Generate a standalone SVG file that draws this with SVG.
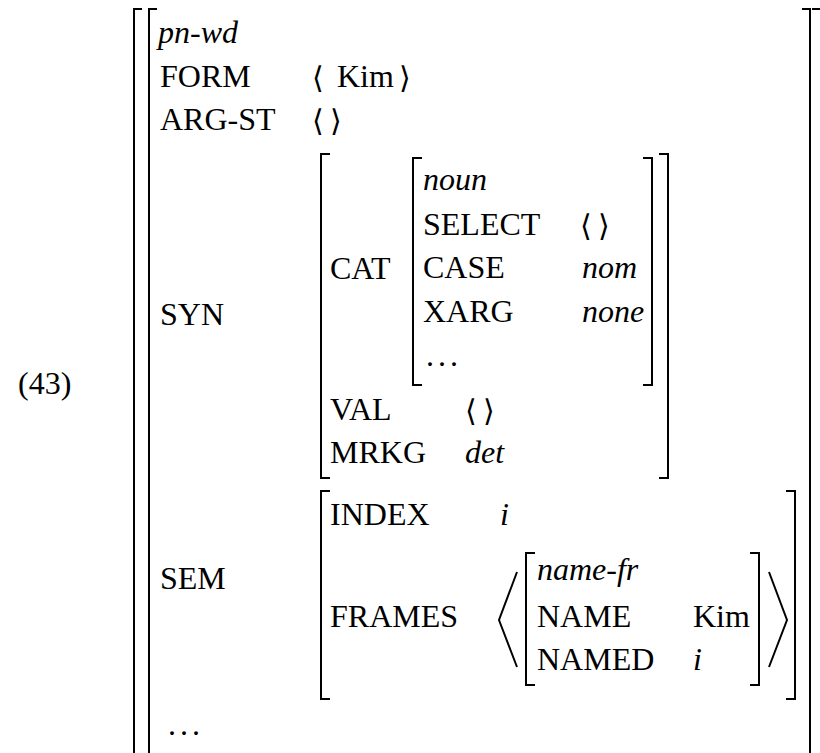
<svg xmlns="http://www.w3.org/2000/svg" width="820" height="753" viewBox="0 0 820 753" font-family="Liberation Serif, serif" font-size="32">
  <style>
    .it { font-style: italic; }
    .ang { font-size: 30px; }
    .br { fill: none; stroke: #000; stroke-width: 2; }
  </style>

  <!-- example number -->
  <text id="exnum" x="18" y="394">(43)</text>

  <!-- outermost word AVM -->
  <g id="word">
    <path class="br" d="M142 9 H134 V760"/>
    <path class="br" d="M157 9 H149 V760"/>
    <path class="br" d="M802 9 H810 V760"/>
    <path class="br" d="M812 9 H822 V760"/>
    <text class="it" x="158" y="43">pn-wd</text>
    <text x="160" y="87">FORM</text>
    <text class="ang" x="312" y="88">⟨</text>
    <text x="337" y="87">Kim</text>
    <text class="ang" x="399" y="88">⟩</text>
    <text x="160" y="130">ARG-ST</text>
    <text class="ang" x="312" y="131">⟨</text>
    <text class="ang" x="330" y="131">⟩</text>
    <text x="160" y="325">SYN</text>
    <text x="160" y="589">SEM</text>
    <text x="168" y="735" textLength="32">. . .</text>
  </g>

  <!-- SYN value -->
  <g id="syn">
    <path class="br" d="M330 154 H321 V478 H330"/>
    <path class="br" d="M659 154 H668 V478 H659"/>
    <text x="330" y="279">CAT</text>
    <text x="330" y="420">VAL</text>
    <text class="ang" x="465" y="421">⟨</text>
    <text class="ang" x="483" y="421">⟩</text>
    <text x="330" y="463">MRKG</text>
    <text class="it" x="465" y="463">det</text>
  </g>

  <!-- CAT value -->
  <g id="cat">
    <path class="br" d="M422 158 H413 V385 H422"/>
    <path class="br" d="M643 158 H652 V385 H643"/>
    <text class="it" x="423" y="190">noun</text>
    <text x="423" y="235">SELECT</text>
    <text class="ang" x="580" y="236">⟨</text>
    <text class="ang" x="598" y="236">⟩</text>
    <text x="423" y="278">CASE</text>
    <text class="it" x="582" y="278">nom</text>
    <text x="423" y="322">XARG</text>
    <text class="it" x="582" y="322">none</text>
    <text x="426" y="366" textLength="32">. . .</text>
  </g>

  <!-- SEM value -->
  <g id="sem">
    <path class="br" d="M330 491 H321 V699 H330"/>
    <path class="br" d="M786 491 H795 V699 H786"/>
    <text x="330" y="525">INDEX</text>
    <text class="it" x="500" y="525">i</text>
    <text x="330" y="627">FRAMES</text>
    <path class="br" d="M517 572 L499 620 L517 667"/>
    <path class="br" d="M769 572 L787 620 L769 667"/>
  </g>

  <!-- name-fr frame -->
  <g id="frame">
    <path class="br" d="M535 553 H526 V685 H535"/>
    <path class="br" d="M750 553 H759 V685 H750"/>
    <text class="it" x="537" y="580">name-fr</text>
    <text x="537" y="627">NAME</text>
    <text x="693" y="627">Kim</text>
    <text x="537" y="670">NAMED</text>
    <text class="it" x="693" y="670">i</text>
  </g>
</svg>
